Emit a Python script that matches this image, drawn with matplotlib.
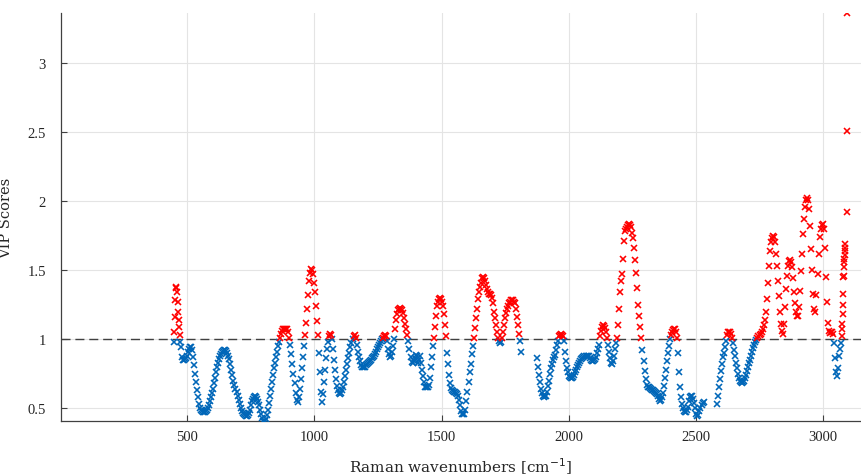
import numpy as np
import matplotlib
matplotlib.use("Agg")
import matplotlib.pyplot as plt

head_start, head_step = 448, 2
head_vip = [0.98, 1.05, 1.16, 1.28, 1.37, 1.38, 1.34, 1.27, 1.20, 1.14, 1.09, 1.03, 0.98]

seg1_start, seg1_step = 474, 4
seg1_vip = [
    0.94, 0.87, 0.85, 0.85, 0.855, 0.865, 0.88, 0.905, 0.93, 0.945,   # 474
    0.94, 0.92, 0.87, 0.81, 0.75, 0.69, 0.63, 0.58, 0.53, 0.50,       # 514
    0.485, 0.48, 0.475, 0.475, 0.475, 0.48, 0.49, 0.50, 0.52, 0.55,   # 554
    0.58, 0.61, 0.64, 0.68, 0.72, 0.76, 0.80, 0.83, 0.855, 0.875,     # 594
    0.89, 0.905, 0.915, 0.92, 0.92, 0.915, 0.90, 0.88, 0.855, 0.82,   # 634
    0.78, 0.74, 0.70, 0.67, 0.64, 0.62, 0.59, 0.56, 0.53, 0.50,       # 674
    0.48, 0.465, 0.455, 0.45, 0.445, 0.445, 0.45, 0.465, 0.49, 0.52,  # 714
    0.55, 0.57, 0.58, 0.585, 0.58, 0.565, 0.545, 0.52, 0.49, 0.46,    # 754
    0.43, 0.41, 0.405, 0.41, 0.425, 0.45, 0.49, 0.54, 0.59, 0.64,     # 794
    0.69, 0.74, 0.79, 0.83, 0.87, 0.91, 0.95, 0.98, 1.01, 1.04,       # 834
    1.06, 1.07, 1.075, 1.075, 1.07, 1.07, 1.05, 1.01, 0.96, 0.89,     # 874
    0.82, 0.75, 0.68, 0.61, 0.56, 0.545, 0.58, 0.64, 0.71, 0.79,      # 914
    0.87, 0.95, 1.03, 1.12, 1.22, 1.32, 1.42, 1.48, 1.51, 1.50,       # 954
    1.47, 1.41, 1.34, 1.24, 1.13, 1.03, 0.90, 0.76, 0.62, 0.545,      # 994
    0.60, 0.69, 0.78, 0.86, 0.93, 0.98, 1.02, 1.035, 1.03, 1.00,      # 1034
    0.93, 0.85, 0.78, 0.71, 0.66, 0.63, 0.61, 0.605, 0.61, 0.63,      # 1074
    0.65, 0.69, 0.73, 0.78, 0.82, 0.86, 0.90, 0.94, 0.97, 1.00,       # 1114
    1.02, 1.03, 1.01, 0.96, 0.91, 0.87, 0.84, 0.81, 0.80, 0.795,      # 1154
    0.80, 0.80, 0.81, 0.82, 0.83, 0.835, 0.845, 0.85, 0.86, 0.87,     # 1194
    0.88, 0.895, 0.91, 0.925, 0.94, 0.955, 0.97, 0.985, 1.00, 1.01,   # 1234
    1.02, 1.03, 1.02, 0.99, 0.93, 0.89, 0.87, 0.88, 0.91, 0.95,       # 1274
    1.00, 1.07, 1.14, 1.18, 1.21, 1.22, 1.225, 1.22, 1.21, 1.19,      # 1314
    1.15, 1.11, 1.07, 1.03, 0.99, 0.93, 0.87, 0.835, 0.83, 0.845,     # 1354
    0.86, 0.885, 0.88, 0.83, 0.85, 0.875, 0.83, 0.78, 0.73, 0.69,     # 1394
    0.655, 0.65, 0.65, 0.655, 0.67, 0.72, 0.80, 0.87, 0.95, 1.01,     # 1434
    1.09, 1.17, 1.24, 1.27, 1.29, 1.30, 1.29, 1.27, 1.24, 1.18,       # 1474
    1.10, 1.02, 0.90, 0.82, 0.74, 0.68, 0.645, 0.63, 0.625, 0.62,     # 1514
    0.615, 0.61, 0.60, 0.59, 0.56, 0.52, 0.48, 0.46, 0.455, 0.455,    # 1554
    0.49, 0.55, 0.62, 0.69, 0.76, 0.82, 0.89, 0.95, 1.01, 1.08,       # 1594
    1.15, 1.22, 1.29, 1.34, 1.38, 1.41, 1.44, 1.45, 1.44, 1.42,       # 1634
    1.39, 1.36, 1.34, 1.33, 1.33, 1.32, 1.30, 1.26, 1.20, 1.15,       # 1674
    1.10, 1.05, 1.01, 0.99, 0.975, 0.98, 1.01, 1.05, 1.10, 1.15,      # 1714
    1.19, 1.22, 1.24, 1.26, 1.27, 1.28, 1.28, 1.28, 1.27, 1.26,       # 1754
    1.22, 1.16, 1.10, 1.04, 0.99, 0.91,                               # 1794
]

seg2_start, seg2_step = 1874, 4
seg2_vip = [
    0.86, 0.80, 0.74, 0.69, 0.64, 0.61, 0.59, 0.58, 0.585, 0.59,      # 1874
    0.62, 0.66, 0.70, 0.75, 0.79, 0.82, 0.85, 0.87, 0.885, 0.92,      # 1914
    0.96, 0.99, 1.02, 1.03, 1.035, 1.03, 1.02, 0.99, 0.91, 0.84,      # 1954
    0.79, 0.76, 0.735, 0.725, 0.72, 0.72, 0.725, 0.74, 0.76, 0.78,    # 1994
    0.795, 0.81, 0.83, 0.845, 0.855, 0.865, 0.87, 0.875, 0.88, 0.88,  # 2034
    0.88, 0.875, 0.865, 0.85, 0.845, 0.845, 0.85, 0.855, 0.87, 0.90,  # 2074
    0.93, 0.96, 1.02, 1.06, 1.085, 1.10, 1.095, 1.08, 1.055, 1.01,    # 2114
    0.96, 0.91, 0.86, 0.83, 0.82, 0.84, 0.88, 0.93, 0.97, 1.01,       # 2154
    1.10, 1.22, 1.34, 1.42, 1.47, 1.58, 1.71, 1.78, 1.80, 1.815,      # 2194
    1.83, 1.835, 1.83, 1.81, 1.77, 1.73, 1.66, 1.57, 1.48, 1.37,      # 2234
    1.25, 1.17, 1.09, 1.01, 0.92, 0.84, 0.77, 0.71, 0.67, 0.655,      # 2274
    0.65, 0.645, 0.64, 0.635, 0.63, 0.625, 0.62, 0.61, 0.60, 0.585,   # 2314
    0.57, 0.555, 0.56, 0.58, 0.61, 0.66, 0.72, 0.78, 0.84, 0.90,      # 2354
    0.95, 1.00, 1.03, 1.05, 1.065, 1.075, 1.07, 1.05, 1.01, 0.90,     # 2394
    0.76, 0.65, 0.58, 0.53, 0.50, 0.48, 0.47, 0.475, 0.485, 0.51,     # 2434
    0.55, 0.58, 0.59, 0.59, 0.57, 0.535, 0.50, 0.46, 0.445, 0.45,     # 2474
    0.48, 0.50, 0.52, 0.535, 0.545,                                   # 2514
]

seg3_start, seg3_step = 2582, 4
seg3_vip = [
    0.53, 0.59, 0.65, 0.71, 0.77, 0.82, 0.87, 0.90, 0.94, 0.99,       # 2582
    1.03, 1.05, 1.055, 1.05, 1.04, 1.01, 0.97, 0.92, 0.88, 0.83,      # 2622
    0.79, 0.75, 0.72, 0.70, 0.69, 0.685, 0.69, 0.70, 0.72, 0.74,      # 2662
    0.77, 0.80, 0.83, 0.85, 0.88, 0.91, 0.935, 0.96, 0.98, 0.995,     # 2702
    1.01, 1.02, 1.03, 1.04, 1.05, 1.07, 1.10, 1.14, 1.20, 1.29,       # 2742
    1.41, 1.53, 1.64, 1.70, 1.735, 1.745, 1.74, 1.70, 1.62, 1.53,     # 2782
    1.42, 1.31, 1.20, 1.11, 1.06, 1.04, 1.11, 1.23, 1.36, 1.46,       # 2822
    1.53, 1.565, 1.575, 1.56, 1.52, 1.44, 1.34, 1.26, 1.20, 1.165,    # 2862
    1.17, 1.23, 1.35, 1.49, 1.62, 1.76, 1.87, 1.96, 2.01, 2.025,      # 2902
    2.01, 1.94, 1.82, 1.65, 1.50, 1.33, 1.22, 1.20, 1.32, 1.47,       # 2942
    1.62, 1.74, 1.80, 1.83, 1.835, 1.80, 1.66, 1.45, 1.27, 1.12,      # 2982
    1.06, 1.045, 1.05, 1.05, 1.04, 0.97, 0.86, 0.76, 0.735, 0.79,     # 3022
    0.88, 0.93, 0.97,                                                 # 3062
]

# steep rise at the very end of the spectrum
tail_wn = [3074, 3075, 3076, 3077, 3078, 3079, 3080, 3081, 3082, 3083,
           3084, 3085, 3086, 3087, 3088, 3093, 3094, 3095]
tail_vip = [1.02, 1.07, 1.11, 1.18, 1.25, 1.33, 1.45, 1.46, 1.52, 1.56,
            1.58, 1.61, 1.64, 1.66, 1.69, 1.92, 2.51, 3.36]

THRESH = 1.0
RED = "#ff0000"
BLUE = "#0066b8"
GRID = "#e4e4e4"
AXC = "#404040"


def grid_of(start, step, vals):
    return start + step * np.arange(len(vals))


wn = np.concatenate([
    grid_of(head_start, head_step, head_vip),
    grid_of(seg1_start, seg1_step, seg1_vip),
    grid_of(seg2_start, seg2_step, seg2_vip),
    grid_of(seg3_start, seg3_step, seg3_vip),
    np.array(tail_wn, dtype=float),
])
vip = np.concatenate([head_vip, seg1_vip, seg2_vip, seg3_vip, tail_vip]).astype(float)
above = vip > THRESH

fig = plt.figure(figsize=(8.61, 4.77), dpi=100)
ax = fig.add_axes([61 / 861, 54.7 / 477, 800 / 861, 408.3 / 477])

ax.axhline(THRESH, color=AXC, lw=1.0, ls=(0, (6.5, 3.5)), zorder=2)
ax.plot(wn[~above], vip[~above], "x", color=BLUE, ms=4.0, mew=1.15, zorder=3)
ax.plot(wn[above], vip[above], "x", color=RED, ms=4.0, mew=1.15, zorder=4)

ax.set_xlim(4, 3149)
ax.set_ylim(0.405, 3.362)
ax.set_xticks([500, 1000, 1500, 2000, 2500, 3000])
ax.set_yticks([0.5, 1, 1.5, 2, 2.5, 3])
ax.set_yticklabels(["0.5", "1", "1.5", "2", "2.5", "3"])

ax.grid(True, color=GRID, lw=0.8)
ax.set_axisbelow(True)
for s in ["top", "right"]:
    ax.spines[s].set_visible(False)
for s in ["left", "bottom"]:
    ax.spines[s].set_color(AXC)
    ax.spines[s].set_linewidth(0.9)

ax.tick_params(direction="in", length=4, width=0.8, color=AXC, labelcolor="#262626")
ax.tick_params(axis="x", pad=6.5)
ax.tick_params(axis="y", pad=11)
for lab in ax.get_xticklabels() + ax.get_yticklabels():
    lab.set_family("Liberation Serif")
    lab.set_fontsize(10.5)

ax.set_xlabel("Raman wavenumbers [cm$^{-1}$]", family="DejaVu Serif", fontsize=11,
              color="#262626", labelpad=9)
ax.set_ylabel("VIP Scores", family="DejaVu Serif", fontsize=10.5, color="#262626",
              labelpad=10)

fig.savefig("out.png", dpi=100, facecolor="white")
